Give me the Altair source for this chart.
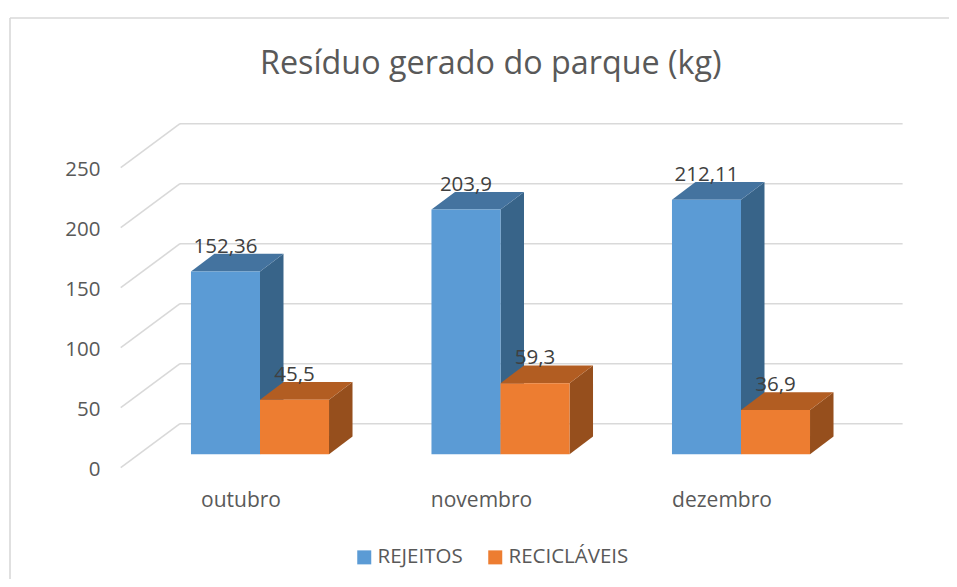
import altair as alt
import pandas as pd

categories = ["outubro", "novembro", "dezembro"]
series_names = ["REJEITOS", "RECICLÁVEIS"]
rejeitos = [152.36, 203.9, 212.11]
reciclaveis = [45.5, 59.3, 36.9]
y_ticks = [0, 50, 100, 150, 200, 250]

BW = 0.287      # bar width, category units
DX = 0.0977     # bar depth, category units
DV = 14.75      # bar depth, value units
BASE = 11.17    # floor of bars, value units
WALL_DV = 36.67 # wall depth, value units
WALL_L, WALL_F, WALL_R = -0.3326, -0.579, 2.672

x_scale = alt.Scale(domain=[0, 2], range=[252, 733])
y_scale = alt.Scale(domain=[0, 250], range=[459.7, 159.7])
W, H = 941, 571

front, side, top, labels = [], [], [], []
for s, vals in zip(series_names, [rejeitos, reciclaveis]):
    for i, v in enumerate(vals):
        x0 = i - BW if s == series_names[0] else i
        x1 = x0 + BW
        h = v + BASE
        bid = f"{s}{i}"
        front.append(dict(s=s, x=x0, x2=x1, y=BASE, y2=h))
        side += [dict(s=s, id=bid, x=x1, y=BASE, y2=h),
                 dict(s=s, id=bid, x=x1 + DX, y=BASE + DV, y2=h + DV)]
        top += [dict(s=s, id=bid, y=h, x=x0, x2=x1),
                dict(s=s, id=bid, y=h + DV, x=x0 + DX, x2=x1 + DX)]
        labels.append(dict(s=s, x=(x0 + x1) / 2, y=h + DV, t=str(v).replace(".", ",")))
front, side, top, labels = map(pd.DataFrame, (front, side, top, labels))

X = lambda f="x": alt.X(f"{f}:Q", scale=x_scale, axis=None)
Y = lambda f="y": alt.Y(f"{f}:Q", scale=y_scale, axis=None, stack=None)

# real axes carrying the tick labels
cat_expr = "[" + ",".join(f"'{c}'" for c in categories) + "][datum.value]"
axis_src = alt.Chart(pd.DataFrame({"x": [0, 1, 2], "y": [0, 0, 0]})).mark_point(opacity=0).encode(
    x=alt.X("x:Q", scale=x_scale, axis=alt.Axis(
        values=[0, 1, 2], labelExpr=cat_expr, title=None,
        grid=False, domain=False, ticks=False, labelFontSize=21, labelColor="#595959",
        labelFont="Open Sans", labelOffset=-19.5, labelPadding=0, offset=-(H - 481), labelFlush=False,
        labelOverlap=False)),
    y=alt.Y("y:Q", scale=y_scale, axis=alt.Axis(
        values=y_ticks, title=None, grid=False, domain=False, ticks=False, labelFontSize=20.5,
        labelColor="#595959", labelFont="Open Sans", labelPadding=0, labelOffset=2, offset=-92,
        labelOverlap=False)),
)

# floor-and-wall gridlines
back = pd.DataFrame({"v": y_ticks})
back["y"] = back.v + WALL_DV
back["x"] = WALL_L
back["x2"] = WALL_R
grid_back = alt.Chart(back).mark_rule(color="#D9D9D9", strokeWidth=1.6).encode(
    x=X(), x2="x2:Q", y=Y())
slant = pd.DataFrame(
    [dict(v=v, x=WALL_F, y=v) for v in y_ticks] + [dict(v=v, x=WALL_L, y=v + WALL_DV) for v in y_ticks])
grid_slant = alt.Chart(slant).mark_line(color="#D9D9D9", strokeWidth=1.6).encode(
    x=X(), y=Y(), detail="v:N")

faces = {
    series_names[0]: ("#386489", "#44739F"),
    series_names[1]: ("#964F1D", "#B25D22"),
}
layers = [axis_src, grid_back, grid_slant]
for s in series_names:
    c_side, c_top = faces[s]
    layers.append(alt.Chart(side[side.s == s]).mark_area(orient="vertical", color=c_side).encode(
        x=X(), y=Y(), y2="y2:Q", detail="id:N"))
    layers.append(alt.Chart(top[top.s == s]).mark_area(orient="horizontal", color=c_top).encode(
        y=Y(), x=X(), x2="x2:Q", detail="id:N"))
    layers.append(alt.Chart(front[front.s == s]).mark_rect().encode(
        x=X(), x2="x2:Q", y=Y(), y2="y2:Q",
        color=alt.Color("s:N", scale=alt.Scale(domain=series_names, range=["#5B9BD5", "#ED7D31"]),
                        legend=alt.Legend(
                            title=None, orient="none", legendX=346, legendY=539, direction="horizontal",
                            symbolType="square", symbolSize=196, symbolStrokeWidth=0, labelFontSize=20.5,
                            labelFont="Open Sans", labelColor="#595959", columnPadding=22,
                            labelOffset=3))))

text = alt.Chart(labels).mark_text(
    font="Open Sans", fontSize=20.5, color="#404040", baseline="alphabetic", dy=-1
).encode(x=X(), y=Y(), text="t:N")
layers.append(text)

frame_top = alt.Chart(pd.DataFrame({"a": [0]})).mark_rule(color="#D9D9D9", strokeWidth=1.6).encode(
    x=alt.value(2), x2=alt.value(W), y=alt.value(10))
frame_left = alt.Chart(pd.DataFrame({"a": [0]})).mark_rule(color="#D9D9D9", strokeWidth=1.6).encode(
    x=alt.value(2), y=alt.value(10), y2=alt.value(H))
layers += [frame_top, frame_left]

chart = alt.layer(*layers).resolve_axis(x="independent", y="independent").properties(
    width=W, height=H, padding=0, autosize=alt.AutoSizeParams(type="none"),
    title=alt.TitleParams("Resíduo gerado do parque (kg)", font="Open Sans", fontSize=32.3, fontWeight="normal",
                          color="#595959", anchor="start", dx=252, dy=72, offset=0),
).configure_view(stroke=None)

chart.save("out.html", embed_options={"renderer": "svg", "actions": False})
